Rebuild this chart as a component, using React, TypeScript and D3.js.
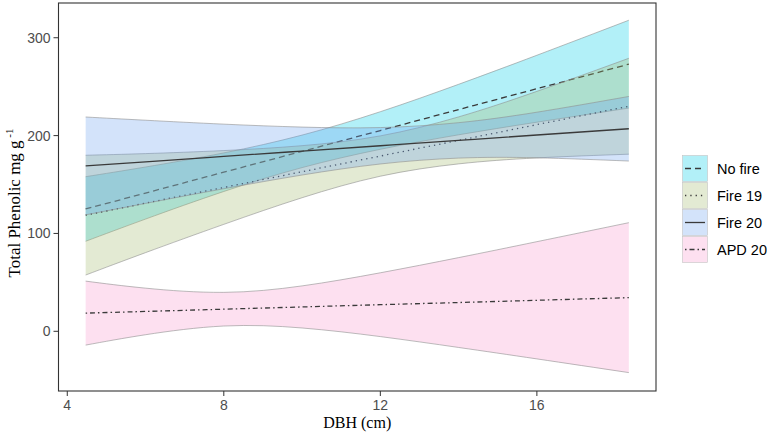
import React from "react";
import * as d3 from "d3";

// ---- data ----
const dbh = [4.47, 6, 8, 10, 12, 14, 16, 18.35];

const noFireFit = [125, 141.3, 162.6, 183.9, 205.2, 226.6, 247.9, 273];
const noFireLo = [92, 114.7, 142.9, 167.3, 186, 200.8, 213.7, 228.1];
const noFireHi = [158, 167.9, 182.3, 200.5, 224.4, 252.4, 282.1, 317.9];

const fire19Fit = [118.7, 131, 147, 163.1, 179.1, 195.1, 211.2, 230];
const fire19Lo = [57.5, 80.4, 109.3, 136.5, 158.5, 171.1, 177.2, 181];
const fire19Hi = [179.9, 181.6, 184.7, 189.7, 199.7, 219.1, 245.2, 279];

const fire20Fit = [169, 173.2, 178.7, 184.2, 189.6, 195.1, 200.6, 207];
const fire20Lo = [119, 130.7, 145.7, 159.7, 171, 177, 177.3, 174];
const fire20Hi = [219, 215.7, 211.7, 208.7, 208.2, 213.2, 223.9, 240];

const apdFit = [18.6, 20.3, 22.6, 24.9, 27.2, 29.4, 31.7, 34.4];
const apdLo = [-14.1, -3.5, 5.4, 3.4, -5.4, -16.5, -28.2, -42.2];
const apdHi = [51.3, 44.1, 39.8, 46.4, 59.8, 75.3, 91.6, 111];

const seriesNames = ["No fire", "Fire 19", "Fire 20", "APD 20"];
const seriesFits = [noFireFit, fire19Fit, fire20Fit, apdFit];
const seriesLos = [noFireLo, fire19Lo, fire20Lo, apdLo];
const seriesHis = [noFireHi, fire19Hi, fire20Hi, apdHi];
const seriesFills = ["#00CDE8", "#A2B96C", "#6CA2EE", "#F898CD"];
const seriesDash = ["6,4", "1.3,4", "", "1.5,3,5,3"];

const xTicks = [4, 8, 12, 16];
const yTicks = [0, 100, 200, 300];

// ---- layout ----
const W = 767;
const H = 434;
const panel = { left: 58.5, right: 656, top: 3, bottom: 391 };
const fillAlpha = 0.3;

export default function App() {
  const x = d3.scaleLinear().domain([3.776, 19.044]).range([panel.left, panel.right]);
  const y = d3.scaleLinear().domain([-61, 335.5]).range([panel.bottom, panel.top]);

  const line = d3
    .line<number>()
    .x((_, i) => x(dbh[i]))
    .y((d) => y(d))
    .curve(d3.curveNatural);

  const tickFont = "'Liberation Sans', Arial, sans-serif";
  const serif = "'Liberation Serif', 'Times New Roman', serif";

  const legendX = 682;
  const legendY = 155;
  const keyW = 26;
  const keyH = 27;

  return (
    <div style={{ position: "absolute", left: 0, top: 0 }}>
      <svg width={W} height={H} style={{ display: "block", background: "#fff" }}>
        <defs>
          <clipPath id="panelClip">
            <rect x={panel.left} y={panel.top} width={panel.right - panel.left} height={panel.bottom - panel.top} />
          </clipPath>
        </defs>
        <rect x={0} y={0} width={W} height={H} fill="#fff" />

        <g clipPath="url(#panelClip)">
          {seriesNames.map((name, s) => {
            const lo = seriesLos[s];
            const hi = seriesHis[s];
            const a = d3
              .area<number>()
              .x((_, i) => x(dbh[i]))
              .y0((_, i) => y(lo[i]))
              .y1((_, i) => y(hi[i]))
              .curve(d3.curveNatural);
            return (
              <g key={name}>
                <path d={a(dbh) || ""} fill={seriesFills[s]} fillOpacity={fillAlpha} stroke="none" />
                <path d={line(lo) || ""} fill="none" stroke="#8f8f8f" strokeWidth={0.6} />
                <path d={line(hi) || ""} fill="none" stroke="#8f8f8f" strokeWidth={0.6} />
                <path
                  d={line(seriesFits[s]) || ""}
                  fill="none"
                  stroke="#3a3a3a"
                  strokeWidth={1.3}
                  strokeDasharray={seriesDash[s] || undefined}
                />
              </g>
            );
          })}
        </g>

        {/* panel border */}
        <rect
          x={panel.left}
          y={panel.top}
          width={panel.right - panel.left}
          height={panel.bottom - panel.top}
          fill="none"
          stroke="#333"
          strokeWidth={1.1}
        />

        {/* y axis ticks */}
        {yTicks.map((t) => (
          <g key={"y" + t}>
            <line x1={panel.left - 5} x2={panel.left} y1={y(t)} y2={y(t)} stroke="#333" strokeWidth={1} />
            <text
              x={panel.left - 8}
              y={y(t)}
              textAnchor="end"
              dominantBaseline="central"
              fontFamily={tickFont}
              fontSize={14}
              fill="#4d4d4d"
            >
              {t}
            </text>
          </g>
        ))}

        {/* x axis ticks */}
        {xTicks.map((t) => (
          <g key={"x" + t}>
            <line x1={x(t)} x2={x(t)} y1={panel.bottom} y2={panel.bottom + 5} stroke="#333" strokeWidth={1} />
            <text
              x={x(t)}
              y={panel.bottom + 14}
              textAnchor="middle"
              dominantBaseline="central"
              fontFamily={tickFont}
              fontSize={14}
              fill="#4d4d4d"
            >
              {t}
            </text>
          </g>
        ))}

        {/* axis titles */}
        <text
          x={(panel.left + panel.right) / 2}
          y={428}
          textAnchor="middle"
          fontFamily={serif}
          fontSize={16}
          fill="#000"
        >
          DBH (cm)
        </text>
        <text
          transform={`translate(20, 203) rotate(-90)`}
          textAnchor="middle"
          fontFamily={serif}
          fontSize={17}
          fill="#000"
        >
          Total Phenolic mg g
          <tspan fontSize={11} dy={-7}>
            {" "}-1
          </tspan>
        </text>

        {/* legend */}
        {seriesNames.map((name, s) => {
          const ky = legendY + s * keyH;
          const cy = ky + keyH / 2;
          return (
            <g key={"leg" + name}>
              <rect x={legendX} y={ky} width={keyW} height={keyH} fill="#fff" />
              <rect
                x={legendX + 0.5}
                y={ky + 0.5}
                width={keyW - 1}
                height={keyH - 1}
                fill={seriesFills[s]}
                fillOpacity={fillAlpha}
                stroke="#c4c4c4"
                strokeWidth={0.6}
              />
              <line
                x1={legendX + 3}
                x2={legendX + keyW - 3}
                y1={cy}
                y2={cy}
                stroke="#3a3a3a"
                strokeWidth={1.3}
                strokeDasharray={seriesDash[s] || undefined}
              />
              <text
                x={legendX + keyW + 9}
                y={cy}
                dominantBaseline="central"
                fontFamily={tickFont}
                fontSize={14.5}
                fill="#000"
              >
                {name}
              </text>
            </g>
          );
        })}
      </svg>
    </div>
  );
}
